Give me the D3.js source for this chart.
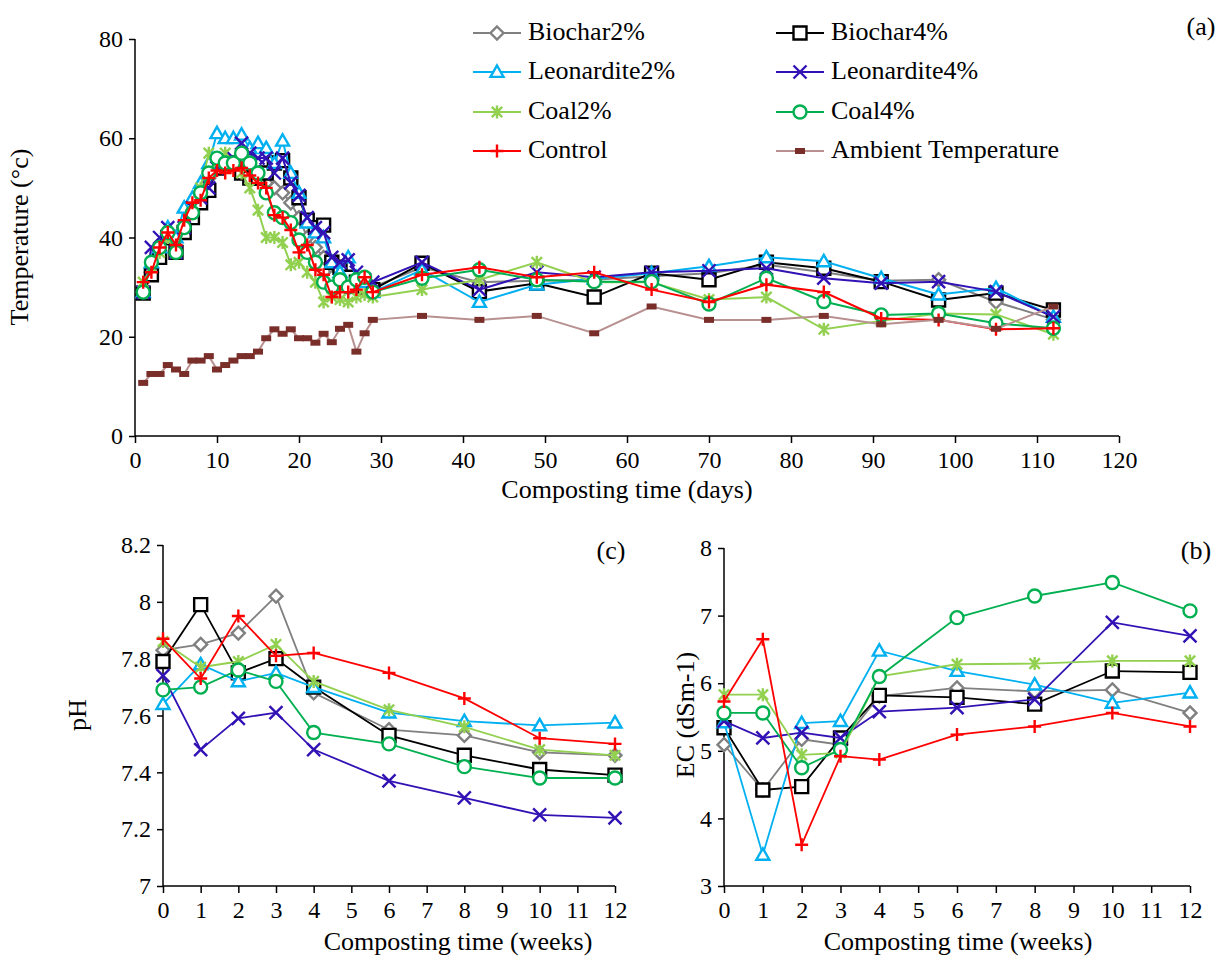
<!DOCTYPE html>
<html>
<head>
<meta charset="utf-8">
<script src="https://cdn.jsdelivr.net/npm/d3@7"></script>
<style>
  body { margin: 0; background: #fff; }
  text { font-family: "Liberation Serif", "Times New Roman", serif; fill: #000; }
</style>
</head>
<body>
<div id="chart"></div>
<script>
// ---------------------------------------------------------------------------
// DATA
// ---------------------------------------------------------------------------
const seriesNames = ["Biochar2%", "Biochar4%", "Leonardite2%", "Leonardite4%",
                     "Coal2%", "Coal4%", "Control", "Ambient Temperature"];

// (a) temperature, daily for the first month then weekly
const tempDays = [1, 2, 3, 4, 5, 6, 7, 8, 9, 10, 11, 12, 13, 14, 15, 16, 17, 18, 19, 20,
                  21, 22, 23, 24, 25, 26, 27, 28, 29, 35, 42, 49, 56, 63, 70, 77, 84, 91, 98, 105, 112];
const tempBiochar2 = [29, 33, 37, 40, 37, 42, 45, 48, 52, 55, 55, 55, 54, 53, 52, 51, 50, 49, 47, 44,
                      40, 38, 36, 32, 31, 30, 30, 31, 30, 34, 31, 31.3, 31.5, 32.2, 32.8, 34.5, 33, 31.3, 31.5, 27, 23.5];
const tempBiochar4 = [28.8, 32.5, 36, 40, 37, 41, 44, 47, 49.5, 54, 55, 55, 53, 52, 52, 53, 55, 55.5, 52, 48,
                      43.5, 42, 42.5, 35, 34, 32, 31, 30, 29.5, 34.8, 29.1, 30.8, 28, 32.8, 31.5, 35, 33.8, 31.1, 27.4, 28.8, 25.4];
const tempLeonardite2 = [29, 35, 38, 42, 40, 46, 48, 51, 55, 61, 60, 60, 60.7, 58, 59, 58, 55, 59.5, 53, 49,
                         43, 41, 40, 35, 33, 36, 32, 31, 29, 33.5, 27, 30.5, 31.7, 32.8, 34.2, 36, 35.2, 31.8, 28.5, 29.8, 24];
const tempLeonardite4 = [29, 38, 40, 42, 37, 42, 46, 48, 50, 54, 55, 56, 59, 57, 56, 56, 53, 56, 51, 48.5,
                         44, 42, 41, 36, 35, 35.5, 33, 31.5, 31, 35, 29.5, 33, 32, 33, 33.3, 33.8, 31.8, 30.8, 31.1, 29.1, 24];
const tempCoal2 = [31, 34, 37, 40, 37, 42, 45, 50, 57, 55, 57, 55, 53, 50, 45.5, 40, 40, 39, 34.5, 35,
                   33, 31, 27, 28, 27.5, 27, 28, 28.5, 28, 29.5, 31.5, 35, 31, 31, 27.5, 28, 21.5, 23.2, 24.7, 24.5, 20.5];
const tempCoal4 = [29, 35, 38, 41, 37, 42, 45, 49, 53, 56, 55, 55, 57, 55, 53, 49, 45, 44, 43, 39.5,
                   37, 35, 31, 30, 31.5, 30, 31.5, 32, 29, 31.8, 33.5, 31.5, 31.1, 31.1, 26.6, 31.8, 27.1, 24.4, 24.7, 22.7, 21.7];
const tempControl = [31, 33, 38, 41, 38.5, 43.5, 47, 47.5, 52, 53.5, 53, 53.5, 54, 52.5, 51, 50, 44.5, 44, 41.5, 37,
                     38.5, 33.5, 32.5, 28, 29, 29, 29.5, 32, 29, 32.5, 34, 32, 33, 29.5, 27, 30.5, 29, 23.7, 23.4, 21.5, 21.7];
const tempAmbient = [10.7, 12.5, 12.5, 14.3, 13.4, 12.5, 15.2, 15.2, 16.1, 13.4, 14.3, 15.2, 16.1, 16.1, 17, 19.7, 21.5, 20.6, 21.5, 19.7,
                     19.7, 18.8, 20.6, 18.9, 21.6, 22.4, 17, 20.7, 23.4, 24.2, 23.4, 24.2, 20.7, 26.1, 23.4, 23.4, 24.2, 22.5, 23.4, 21.6, 26.1];

// (b) EC and (c) pH, weekly
const weeks = [0, 1, 2, 3, 4, 6, 8, 10, 12];
const weekTicks = [0, 1, 2, 3, 4, 5, 6, 7, 8, 9, 10, 11, 12];

const phBiochar2 = [7.83, 7.85, 7.89, 8.02, 7.68, 7.55, 7.53, 7.47, 7.46];
const phBiochar4 = [7.79, 7.99, 7.75, 7.80, 7.70, 7.53, 7.46, 7.41, 7.39];
const phLeonardite2 = [7.64, 7.78, 7.72, 7.75, 7.70, 7.61, 7.58, 7.565, 7.575];
const phLeonardite4 = [7.74, 7.48, 7.59, 7.61, 7.48, 7.37, 7.31, 7.25, 7.24];
const phCoal2 = [7.86, 7.77, 7.79, 7.85, 7.72, 7.62, 7.56, 7.48, 7.46];
const phCoal4 = [7.69, 7.70, 7.76, 7.72, 7.54, 7.50, 7.42, 7.38, 7.38];
const phControl = [7.87, 7.73, 7.95, 7.81, 7.82, 7.75, 7.66, 7.52, 7.50];

const ecBiochar2 = [5.09, 4.42, 5.17, 5.09, 5.81, 5.93, 5.88, 5.9, 5.56];
const ecBiochar4 = [5.34, 4.42, 4.47, 5.19, 5.82, 5.79, 5.69, 6.18, 6.16];
const ecLeonardite2 = [5.42, 3.46, 5.41, 5.44, 6.48, 6.18, 5.98, 5.71, 5.86];
const ecLeonardite4 = [5.44, 5.19, 5.27, 5.19, 5.58, 5.64, 5.76, 6.9, 6.7];
const ecCoal2 = [5.83, 5.83, 4.94, 4.97, 6.1, 6.28, 6.29, 6.33, 6.33];
const ecCoal4 = [5.56, 5.56, 4.75, 5.02, 6.1, 6.97, 7.29, 7.49, 7.07];
const ecControl = [5.73, 6.65, 3.61, 4.92, 4.87, 5.24, 5.36, 5.56, 5.36];

// ---------------------------------------------------------------------------
// STYLES
// ---------------------------------------------------------------------------
const FONT = '"Liberation Serif", "Times New Roman", serif';
const style = {
  "Biochar2%":    { color: "#808080", marker: "diamond" },
  "Biochar4%":    { color: "#000000", marker: "square" },
  "Leonardite2%": { color: "#00B0F0", marker: "triangle" },
  "Leonardite4%": { color: "#3312B5", marker: "x" },
  "Coal2%":       { color: "#92D050", marker: "star" },
  "Coal4%":       { color: "#00B050", marker: "circle" },
  "Control":      { color: "#FF0000", marker: "plus" },
  "Ambient Temperature": { color: "#B89090", marker: "dash", markerColor: "#7A2E2A" }
};

function markerPath(type, s) {
  const h = s / 2;
  switch (type) {
    case "diamond": return `M0,${-h}L${h},0L0,${h}L${-h},0Z`;
    case "square": return `M${-h},${-h}H${h}V${h}H${-h}Z`;
    case "triangle": return `M0,${-h}L${h},${h * 0.75}L${-h},${h * 0.75}Z`;
    case "circle": { const p = d3.path(); p.arc(0, 0, h, 0, 2 * Math.PI); p.closePath(); return p.toString(); }
    case "x": return `M${-h},${-h}L${h},${h}M${-h},${h}L${h},${-h}`;
    case "plus": return `M${-h},0H${h}M0,${-h}V${h}`;
    case "star": { const k = h * 0.8; return `M${-k},${-k}L${k},${k}M${-k},${k}L${k},${-k}M0,${-h}V${h}`; }
    case "dash": return `M${-5},${-3}H5V3H-5Z`;
  }
}

function drawMarker(g, name, cx, cy, size, sw) {
  const st = style[name];
  const open = ["diamond", "square", "triangle", "circle"].includes(st.marker);
  g.append("path")
    .attr("transform", `translate(${cx},${cy})`)
    .attr("d", markerPath(st.marker, size))
    .attr("fill", st.marker === "dash" ? st.markerColor : (open ? "#fff" : "none"))
    .attr("stroke", st.marker === "dash" ? "none" : st.color)
    .attr("stroke-width", sw);
}

// ---------------------------------------------------------------------------
// SVG
// ---------------------------------------------------------------------------
const svg = d3.select("#chart").append("svg")
  .attr("width", 1221).attr("height", 961)
  .style("background", "#fff");

function drawPanel(cfg) {
  const { x, y, xTicks, yTicks, yFormat, series, xs, markerSize, lineWidth, sw } = cfg;
  const g = svg.append("g");

  // axes
  const yAxis = d3.axisLeft(y).tickValues(yTicks).tickSize(6).tickPadding(6).tickFormat(yFormat);
  const gy = g.append("g").attr("transform", `translate(${x.range()[0]},0)`).call(yAxis);
  const xAxis = d3.axisBottom(x).tickValues(xTicks).tickSize(7).tickPadding(8).tickFormat(d3.format("d"));
  const gx = g.append("g").attr("transform", `translate(0,${y.range()[0]})`).call(xAxis);
  [gx, gy].forEach(a => {
    a.attr("font-family", FONT);
    a.select(".domain").attr("stroke", "#000").attr("stroke-width", 1.5);
    a.selectAll(".tick line").attr("stroke", "#000").attr("stroke-width", 1.5);
    a.selectAll(".tick text").style("font-size", "24px").style("font-family", FONT).attr("fill", "#000");
  });
  gy.select(".domain").attr("d", `M0,${y.range()[1]}V${y.range()[0]}`);
  gx.select(".domain").attr("d", `M${x.range()[0]},0H${x.range()[1]}`);

  // series
  series.forEach(s => {
    const st = style[s.name];
    const pts = xs.map((d, i) => [x(d), y(s.values[i])]);
    const sg = g.append("g");
    sg.append("path")
      .attr("d", d3.line()(pts))
      .attr("fill", "none")
      .attr("stroke", st.color)
      .attr("stroke-width", lineWidth);
    pts.forEach(p => drawMarker(sg, s.name, p[0], p[1], markerSize, sw));
  });
  return g;
}

// (a) temperature
const xTemp = d3.scaleLinear().domain([0, 120]).range([135, 1119]);
const yTemp = d3.scaleLinear().domain([0, 80]).range([436, 39]);
drawPanel({
  x: xTemp, y: yTemp,
  xTicks: [0, 10, 20, 30, 40, 50, 60, 70, 80, 90, 100, 110, 120],
  yTicks: [0, 20, 40, 60, 80], yFormat: d3.format("d"),
  xs: tempDays, markerSize: 13, lineWidth: 2, sw: 2.4,
  series: [
    { name: "Biochar2%", values: tempBiochar2 },
    { name: "Biochar4%", values: tempBiochar4 },
    { name: "Leonardite2%", values: tempLeonardite2 },
    { name: "Leonardite4%", values: tempLeonardite4 },
    { name: "Coal2%", values: tempCoal2 },
    { name: "Coal4%", values: tempCoal4 },
    { name: "Control", values: tempControl },
    { name: "Ambient Temperature", values: tempAmbient }
  ]
});

// (c) pH
const xPh = d3.scaleLinear().domain([0, 12]).range([163, 615]);
const yPh = d3.scaleLinear().domain([7, 8.2]).range([886, 545]);
drawPanel({
  x: xPh, y: yPh, xTicks: weekTicks,
  yTicks: [7, 7.2, 7.4, 7.6, 7.8, 8, 8.2], yFormat: d => String(+d.toFixed(1)),
  xs: weeks, markerSize: 13, lineWidth: 1.8, sw: 2.4,
  series: [
    { name: "Biochar2%", values: phBiochar2 },
    { name: "Biochar4%", values: phBiochar4 },
    { name: "Leonardite2%", values: phLeonardite2 },
    { name: "Leonardite4%", values: phLeonardite4 },
    { name: "Coal2%", values: phCoal2 },
    { name: "Coal4%", values: phCoal4 },
    { name: "Control", values: phControl }
  ]
});

// (b) EC
const xEc = d3.scaleLinear().domain([0, 12]).range([724, 1190]);
const yEc = d3.scaleLinear().domain([3, 8]).range([886, 548]);
drawPanel({
  x: xEc, y: yEc, xTicks: weekTicks,
  yTicks: [3, 4, 5, 6, 7, 8], yFormat: d3.format("d"),
  xs: weeks, markerSize: 13, lineWidth: 1.8, sw: 2.4,
  series: [
    { name: "Biochar2%", values: ecBiochar2 },
    { name: "Biochar4%", values: ecBiochar4 },
    { name: "Leonardite2%", values: ecLeonardite2 },
    { name: "Leonardite4%", values: ecLeonardite4 },
    { name: "Coal2%", values: ecCoal2 },
    { name: "Coal4%", values: ecCoal4 },
    { name: "Control", values: ecControl }
  ]
});

// ---------------------------------------------------------------------------
// LABELS
// ---------------------------------------------------------------------------
function label(txt, x, y, opts = {}) {
  const t = svg.append("text")
    .attr("x", x).attr("y", y)
    .attr("text-anchor", opts.anchor || "middle")
    .attr("dominant-baseline", "middle")
    .style("font-family", FONT)
    .style("font-size", (opts.size || 26) + "px")
    .text(txt);
  if (opts.rotate) t.attr("transform", `rotate(-90,${x},${y})`);
  return t;
}
label("Composting time (days)", 627, 492);
label("Temperature (°c)", 22, 237, { rotate: true });
label("(a)", 1201, 29);
label("Composting time (weeks)", 458, 944);
label("pH", 80, 715, { rotate: true });
label("(c)", 611, 553);
label("Composting time (weeks)", 958, 944);
label("EC (dSm-1)", 688, 715, { rotate: true });
label("(b)", 1196, 553);

// ---------------------------------------------------------------------------
// LEGEND
// ---------------------------------------------------------------------------
const legendCols = [473, 776];
const legendRows = [33, 72, 112, 151];
seriesNames.forEach((name, i) => {
  const lx = legendCols[i % 2], ly = legendRows[Math.floor(i / 2)];
  const st = style[name];
  const lg = svg.append("g").attr("class", "legend");
  lg.append("line")
    .attr("x1", lx).attr("x2", lx + 48).attr("y1", ly).attr("y2", ly)
    .attr("stroke", st.color).attr("stroke-width", 2);
  drawMarker(lg, name, lx + 24, ly, 13, 2.4);
  label(name, lx + 55, ly + 1, { anchor: "start" });
});
</script>
</body>
</html>
